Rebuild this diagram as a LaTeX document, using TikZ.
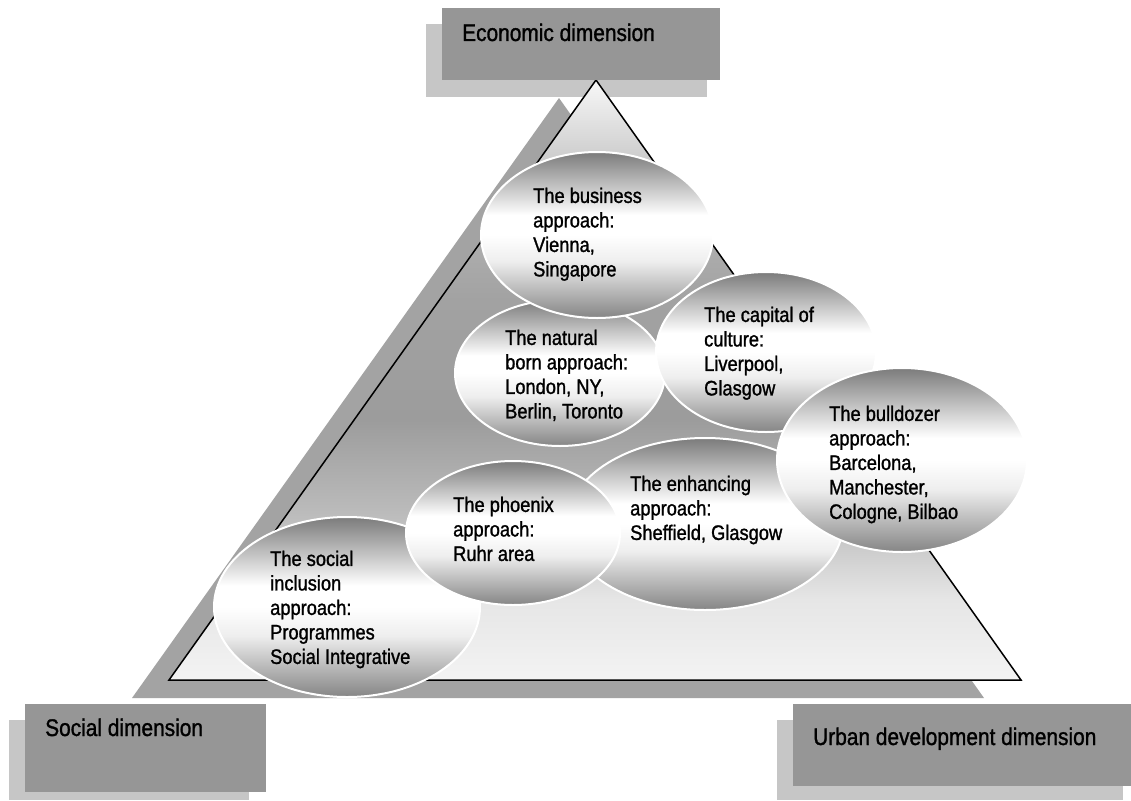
\documentclass[tikz,border=0pt]{standalone}
\usepackage{fontspec}
\setmainfont[FakeStretch=0.87,FakeBold=1.2]{Liberation Sans}
\usetikzlibrary{shapes.geometric}

\definecolor{boxgray}{HTML}{969696}
\definecolor{shadowgray}{HTML}{C6C6C6}
\definecolor{trishadow}{HTML}{A3A3A3}
\definecolor{pyrA}{HTML}{F3F3F3}
\definecolor{pyrB}{HTML}{E6E6E6}
\definecolor{pyrC}{HTML}{BEBEBE}
\definecolor{pyrD}{HTML}{9C9C9C}
\definecolor{pyrE}{HTML}{A2A2A2}
\definecolor{pyrF}{HTML}{B6B6B6}
\definecolor{pyrG}{HTML}{F8F8F8}
\definecolor{bubtop}{HTML}{7B7B7B}
\definecolor{bubmid}{HTML}{FFFFFF}
\definecolor{bubsoft}{HTML}{EEEEEE}
\definecolor{bubbot}{HTML}{858585}

\pgfdeclareverticalshading{pyramid}{100bp}{color(0bp)=(pyrA); color(25bp)=(pyrA);
  color(31.7bp)=(pyrB); color(38.3bp)=(pyrC); color(46.7bp)=(pyrD);
  color(56.7bp)=(pyrE); color(65bp)=(pyrF); color(75bp)=(pyrG); color(100bp)=(pyrG)}
\pgfdeclareverticalshading{bubble}{100bp}{color(0bp)=(bubbot); color(25bp)=(bubbot);
  color(42bp)=(bubsoft); color(50bp)=(bubmid); color(56bp)=(bubmid);
  color(75bp)=(bubtop); color(100bp)=(bubtop)}

\begin{document}
\begin{tikzpicture}[x=1pt,y=-1pt,
  dimbox/.style={fill=boxgray,draw=none,anchor=north west,inner sep=0pt},
  dimtext/.style={font=\fontsize{24}{28}\selectfont,anchor=base west,inner sep=0pt},
  approach/.style={ellipse,shading=bubble,draw=white,line width=2pt,inner sep=0pt},
  blurb/.style={font=\fontsize{21}{24.5}\selectfont,align=left,anchor=north west,inner sep=0pt}]
\useasboundingbox (0,0) rectangle (1131,800);
% shadows of the boxes
\fill[shadowgray] (426,24) rectangle (707,97);
\fill[shadowgray] (9,720) rectangle (249,800);
\fill[shadowgray] (777,720) rectangle (1123,800);
% pyramid
\coordinate (apex) at (596,80);
\coordinate (lbase) at (169,680);
\coordinate (rbase) at (1021,680);
\fill[trishadow] ([shift={(-37,18)}]apex) -- ([shift={(-37,18)}]lbase) -- ([shift={(-37,18)}]rbase) -- cycle;
\shadedraw[shading=pyramid,line width=1.5pt,line join=miter] (apex) -- (lbase) -- (rbase) -- cycle;
% dimensions
\node[dimbox,minimum width=278,minimum height=72] (eco) at (442,8) {};
\node[dimbox,minimum width=241,minimum height=88] (soc) at (25,704) {};
\node[dimbox,minimum width=338,minimum height=82] (urb) at (793,704) {};
\node[dimtext] (eco-t) at ([shift={(20,33)}]eco.north west) {Economic dimension};
\node[dimtext] (soc-t) at ([shift={(20,32)}]soc.north west) {Social dimension};
\node[dimtext] (urb-t) at ([shift={(20,41)}]urb.north west) {Urban development dimension};
% approaches
\node[approach,minimum width=210,minimum height=146] (nat) at (560,373) {};
\node[approach,minimum width=232,minimum height=166] (biz) at (597,235) {};
\node[approach,minimum width=220,minimum height=160] (cap) at (766,352) {};
\node[approach,minimum width=276,minimum height=172] (enh) at (705,524) {};
\node[approach,minimum width=266,minimum height=180] (soi) at (347,607) {};
\node[approach,minimum width=214,minimum height=144] (phx) at (513,533) {};
\node[approach,minimum width=250,minimum height=184] (bul) at (902,460) {};
\node[blurb] (biz-t) at (533,187.5) {The business\\approach:\\Vienna,\\Singapore};
\node[blurb] (nat-t) at (505,329.5) {The natural\\born approach:\\London, NY,\\Berlin, Toronto};
\node[blurb] (cap-t) at (704,306.5) {The capital of\\culture:\\Liverpool,\\Glasgow};
\node[blurb] (bul-t) at (829,405.5) {The bulldozer\\approach:\\Barcelona,\\Manchester,\\Cologne, Bilbao};
\node[blurb] (enh-t) at (630,475.5) {The enhancing\\approach:\\Sheffield, Glasgow};
\node[blurb] (phx-t) at (453,496.5) {The phoenix\\approach:\\Ruhr area};
\node[blurb] (soi-t) at (270,550.5) {The social\\inclusion\\approach:\\Programmes\\Social Integrative};
\end{tikzpicture}
\end{document}
